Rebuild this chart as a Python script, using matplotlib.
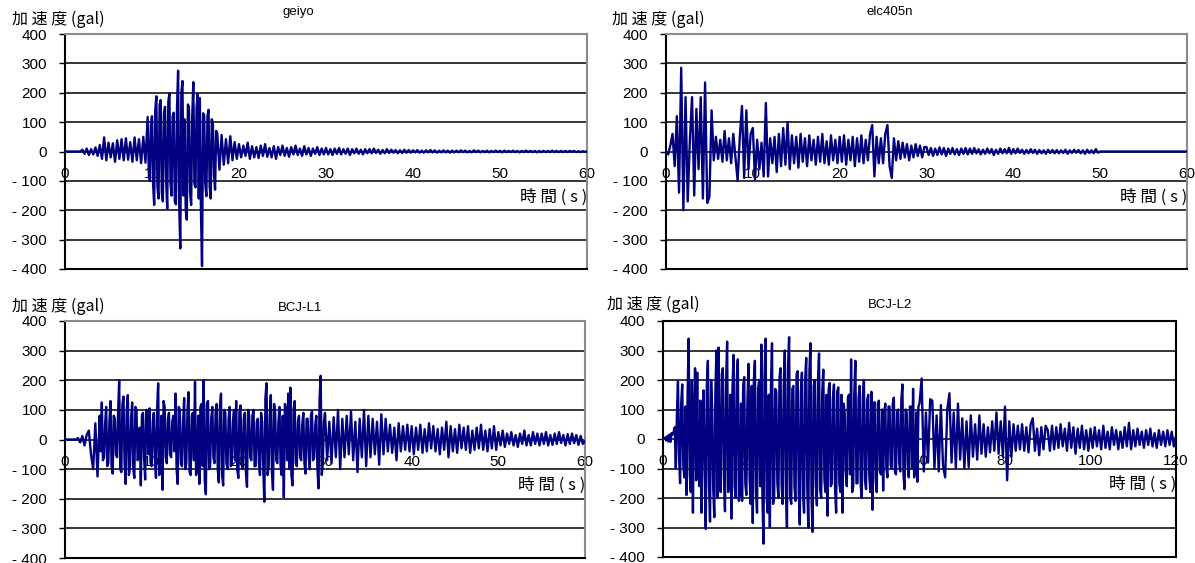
"""
Acceleration records (geiyo, elc405n, BCJ-L1, BCJ-L2) drawn as 2x2 panels.
Each record is kept in pieces (start time, sample step, values) so the
strong-motion parts can carry more samples.
"""

import numpy as np
import matplotlib
matplotlib.use('Agg')
import matplotlib.pyplot as plt

W, H = 1195, 563

# ---- data (gal) ----
# geiyo
geiyo_a = [  # 0 .. 9.25 s, step 0.25
    0, 0, 0, 0, 0, 0, 0, 0, 6, -8, 10, -12, 8, -10, 14, -15, 22, -25, 48, -30,
    30, -20, 28, -35, 38, -25, 42, -30, 45, -28, 32, -35, 48, -30, 42, -40, 50, -38,
]
geiyo_b = [  # 9.5 .. 17.375 s, step 0.125
    118, -60, -100, 90, 120, -110, -182, 140, 188, -120, -160, 160, 175, -140, -170, 130,
    152, -100, -195, 170, 198, -110, -150, 120, 132, -170, -180, 150, 275, -180, -330, 200,
    240, -150, 110, -200, -232, 160, 152, -140, -182, 120, 236, -110, -122, 150, 196, -160,
    182, -200, -390, 130, 122, -110, -152, 120, 142, -120, -160, 110, 92, -80, -130, 70,
]
geiyo_c = [  # 17.5 .. 60 s, step 0.25
    62, -62, 56, -45, 42, -40, 52, -30, 32, -25,
    25, -20, 20, -15, 30, -25, 18, -20, 15, -22, 20, -15, 25, -18, 12, -20, 18, -25, 15, -12,
    20, -15, 12, -18, 15, -10, 20, -12, 10, -15, 18, -10, 12, -15, 10, -8, 15, -12, 10, -10,
    12, -10, 8, -12, 10, -8, 12, -10, 8, -8, 10, -12, 8, -6, 10, -8, 6, -10, 8, -6,
    8, -6, 10, -5, 6, -8, 5, -6, 8, -5, 6, -4, 5, -6, 4, -5, 6, -4, 5, -4,
    4, -3, 5, -4, 3, -4, 4, -3, 5, -3, 4, -4, 3, -3, 4, -3, 3, -4, 3, -3,
    3, -3, 4, -2, 3, -3, 2, -3, 4, -2, 3, -3, 2, -2, 3, -3, 2, -2, 3, -2,
    2, -3, 3, -2, 2, -2, 3, -2, 2, -3, 2, -2, 3, -2, 2, -2, 2, -3, 2, -2,
    2, -2, 2, -2, 3, -2, 2, -2, 2, -2, 2, -2, 2, -1, 2, -2, 1, -2, 1, -1,
    0,
]

# elc405n, step 0.25 s throughout
elc405n = [
    0, -10, 20, 60, -50, 120, -140, 285, -200, 185, -170, 40, 185, -150, 145, -60, 185, -160, 235, -175,
    -155, 140, -30, 50, -25, 40, -35, 70, -30, 45, -40, 60, -20, -100, 50, 155, -90, 140, -60, 60,
    80, -95, 40, -60, 30, -85, 165, -85, 45, -40, 50, -70, 60, -50, 80, -45, 100, -60, 55, -40,
    50, -55, 60, -35, 45, -50, 55, -30, 40, -45, 50, -35, 60, -40, 35, -45, 55, -30, 40, -40,
    50, -35, 55, -45, 40, -30, 50, -50, 45, -35, 55, -40, 40, -30, 60, 90, -85, 50, -40, 45,
    -40, 60, 90, -50, -90, 45, -30, 35, -25, 30, -20, 25, -30, 20, -20, 25, -15, 20, -20, 15,
    15, -12, 12, -15, 10, -12, 14, -10, 12, -15, 10, -8, 12, -10, 8, -12, 10, -8, 12, -10,
    10, -8, 12, -6, 8, -10, 6, -8, 10, -6, 8, -12, 6, -8, 10, -6, 8, -6, 12, -8,
    8, -6, 10, -5, 6, -8, 5, -6, 8, -5, 6, -8, 5, -6, 4, -8, 6, -5, 5, -6,
    5, -6, 4, -5, 6, -8, 4, -5, 6, -4, 5, -6, 4, -8, 6, -5, 4, -6, 8, -4,
    0, 0, 0, 0, 0, 0, 0, 0, 0, 0, 0, 0, 0, 0, 0, 0, 0, 0, 0, 0,
    0, 0, 0, 0, 0, 0, 0, 0, 0, 0, 0, 0, 0, 0, 0, 0, 0, 0, 0, 0,
    0,
]

# BCJ-L1
bcj_l1_a = [  # 0 .. 3.75 s, step 0.25
    0, 0, 0, 0, 0, 0, 5, -10, 12, -20, 15, 30, -50, -100, 55, -125,
]
bcj_l1_b = [  # 4 .. 29.875 s, step 0.125
    80, -40, 125, -70, -60, 50, 110, -90,
    -80, 60, 130, -90, -115, 80, 70, -50, -60, 90, 200, -100, -110, 120, 145, -80, -150, 100, 150, -120,
    -90, 70, 125, -100, -130, 110, 100, -70, -60, 40, -155, 80, 90, -60, -135, 100, 80, -50, 105, -80,
    -90, 60, 90, -70, -130, 100, 190, -120, -100, 80, -170, 130, 110, -60, -80, 70, 90, -50, -60, 60,
    80, -40, 155, -100, -150, 110, 100, -80, -90, 60, 140, -100, -80, 90, 160, -110, -120, 80, 90, -70,
    195, -120, -100, 80, -150, 110, 120, -90, 200, -140, -185, 120, 130, -100, -90, 70, 110, -60, -80, 90,
    120, -100, -145, 110, 155, -120, -155, 100, 90, -80, -100, 70, 110, -90, -80, 60, 100, -70, 130, -100,
    -130, 90, 115, -80, -100, 70, 90, -110, -160, 100, 80, -60, -70, 80, 100, -90, -90, 60, 70, -80,
    -120, 90, 60, -100, -210, 140, 190, -120, -90, 80, 150, -110, -170, 120, 90, -70, -80, 60, 110, -90,
    -120, 80, -195, 120, 100, -70, 155, -100, 175, -120, -155, 100, 130, -80, -90, 60, 80, -60, -70, 50,
    90, -80, -115, 70, 70, -60, -100, 80, 95, -70, -60, 50, 80, -100, -165, 140, 215, -120, -80, 60,
]
bcj_l1_c = [  # 30 .. 60 s, step 0.25
    90, -70, 60, -80, 75, -60, 100, -100, 70, -60, 80, -50, 95, -70, 60, -110, 70, -60, 100, -90,
    80, -60, 70, -50, 60, -85, 85, -50, 70, -40, 50, -45, 40, -70, 55, -40, 45, -35, 50, -40,
    45, -50, 40, -35, 50, -45, 35, -40, 55, -30, 45, -40, 35, -50, 40, -35, 60, -60, 45, -40,
    35, -45, 50, -30, 40, -35, 45, -45, 30, -35, 40, -30, 50, -35, 30, -40, 35, -30, 45, -35,
    25, -20, 30, -25, 20, -15, 25, -20, 15, -25, 20, -15, 30, -20, 15, -20, 25, -15, 20, -20,
    20, -15, 25, -20, 15, -18, 20, -15, 25, -12, 15, -20, 18, -15, 20, -12, 15, -18, 12, -15,
    -5,
]

# BCJ-L2
bcj_l2_a = [  # 0 .. 59.75 s, step 0.25
    0, 2, 5, -5, 10, -8, 15, -10, 20, 15, 25, 40, -100, 80, 195, -60, -150, 120, 185, -90,
    -130, 110, -190, 150, 340, -120, -180, 200, -250, 90, 240, -140, 225, -100, -160, 130, -250, 60, 165, -120,
    -305, 180, 265, -150, -280, 200, 105, -170, -265, 160, 300, -200, 310, -120, -180, 220, 240, -130, -245, 190,
    330, -180, -150, 150, -270, 170, 285, -160, -200, 200, 270, -210, -180, 120, -210, 180, 210, -150, -190, 130,
    255, -130, -220, 180, -285, 200, 265, -180, -250, 170, 200, -160, 320, -190, -355, 210, 340, -200, -250, 150,
    -300, 180, 325, -220, -200, 170, 160, -150, -200, 210, 240, -160, -220, 190, 300, -180, -300, 250, 345, -200,
    -220, 170, 180, -160, -210, 220, 230, -180, -290, 160, 225, -190, -250, 200, 275, -170, -300, 230, 325, -210,
    -315, 180, 200, -150, -225, 200, 290, -170, -200, 160, 235, -140, -180, 150, -260, 170, 190, -160, -150, 140,
    185, -170, -250, 160, 175, -150, -180, 150, -250, 120, 90, -110, -160, 140, 150, -120, 270, -180, -160, 160,
    265, -150, -150, 140, 180, -160, -200, 150, 200, -140, -170, 130, 150, -120, -180, 160, -240, 110, 125, -140,
    -180, 120, 130, -110, -120, 100, -175, 90, 120, -100, -130, 110, 110, -90, -100, 120, 140, -110, -120, 90,
    100, -80, -110, 130, 185, -120, -170, 100, 90, -90, -130, 110, 110, -100, 170, -130, -100, 90, -145, 110,
]
bcj_l2_b = [  # 60 .. 120 s, step 0.5
    120, 205, -110, 90, -80, 135, 130, -100, 80, -110, 115, -90, -130, 100, 155, -80, 90, -100, 120, -70,
    70, -100, 60, -95, 80, -60, 50, -70, 80, -50, 50, -60, 40, -45, 60, -40, 90, -50, 60, -60,
    110, -140, 60, -60, 50, -40, 45, -35, 50, -40, 40, -45, 50, 70, -40, 35, -55, 40, -35, 45,
    30, -40, 45, -35, 40, -30, 50, -25, 35, -40, 55, -30, 40, -50, 35, -30, 45, -35, 30, -40,
    35, -30, 40, -25, 30, -35, 45, -30, 25, -35, 40, -20, 30, -35, 25, -30, 40, -25, 55, -35,
    30, -25, 35, -20, 25, -30, 30, -20, 35, -25, 20, -30, 30, -20, 25, -25, 30, -20, 25, -25,
    10,
]

titles = ['geiyo', 'elc405n', 'BCJ-L1', 'BCJ-L2']
# (start s, step s, values) per piece
records = [
    [(0.0, 0.25, geiyo_a), (9.5, 0.125, geiyo_b), (17.5, 0.25, geiyo_c)],
    [(0.0, 0.25, elc405n)],
    [(0.0, 0.25, bcj_l1_a), (4.0, 0.125, bcj_l1_b), (30.0, 0.25, bcj_l1_c)],
    [(0.0, 0.25, bcj_l2_a), (60.0, 0.5, bcj_l2_b)],
]
x_max = [60, 60, 60, 120]
x_step = [10, 10, 10, 20]

y_ticks = [-400, -300, -200, -100, 0, 100, 200, 300, 400]
y_labels = ['- 400', '- 300', '- 200', '- 100', '0', '100', '200', '300', '400']

# ---- layout (pixel boxes: left, top, right, bottom) ----
boxes = [(65, 34, 587, 269), (666, 34, 1187, 269),
         (65, 321, 585, 558), (663, 321, 1176, 557)]
title_xy = [(298, 12), (890, 12), (300, 308), (890, 305)]
ylab_xy = [(12, 19), (612, 19), (12, 306), (607, 304)]

cjk = ['Noto Sans CJK JP', 'DejaVu Sans']
num_font = 'Liberation Sans'
LINE = '#000080'


def build(pieces):
    ts, vs = [], []
    for start, dt, vals in pieces:
        ts.append(start + np.arange(len(vals)) * dt)
        vs.append(np.asarray(vals, dtype=float))
    return np.concatenate(ts), np.concatenate(vs)


fig = plt.figure(figsize=(W / 100, H / 100), dpi=100)

for i in range(4):
    l, t, r, b = boxes[i]
    ax = fig.add_axes([l / W, 1 - b / H, (r - l) / W, (b - t) / H])
    tt, vals = build(records[i])

    ax.set_xlim(0, x_max[i])
    ax.set_ylim(-400, 400)
    ax.set_xticks([])
    ax.set_yticks(y_ticks)
    ax.set_yticklabels(y_labels, fontname=num_font, fontsize=11)
    ax.tick_params(axis='y', length=4, width=1, pad=9, color='black')

    for yv in [-300, -200, -100, 0, 100, 200, 300]:
        ax.axhline(yv, color='black', lw=1.1, zorder=1)

    ax.plot(tt, vals, color=LINE, lw=1.7, zorder=3)

    # x labels sit under the zero line
    for xv in range(0, x_max[i] + 1, x_step[i]):
        ax.text(xv, -75, str(xv), ha='center', va='center', fontname=num_font,
                fontsize=11, zorder=2, clip_on=False)
    ax.text(1.0, -155, '時 間 ( s )', transform=ax.get_yaxis_transform(),
            ha='right', va='center', fontsize=12, family=cjk)

    edge = 'black' if i == 3 else '#8c8c8c'
    ax.spines['left'].set_color('black')
    ax.spines['bottom'].set_color('black')
    ax.spines['top'].set_color(edge)
    ax.spines['right'].set_color(edge)
    for s in ax.spines.values():
        s.set_linewidth(1.5)

    tx, ty = title_xy[i]
    fig.text(tx / W, 1 - ty / H, titles[i], ha='center', va='center',
             fontname=num_font, fontsize=9.5)
    lx, ly = ylab_xy[i]
    fig.text(lx / W, 1 - ly / H, '加 速 度 (gal)', ha='left', va='center',
             fontsize=11.5, family=cjk)

fig.savefig('out.png', dpi=100)
